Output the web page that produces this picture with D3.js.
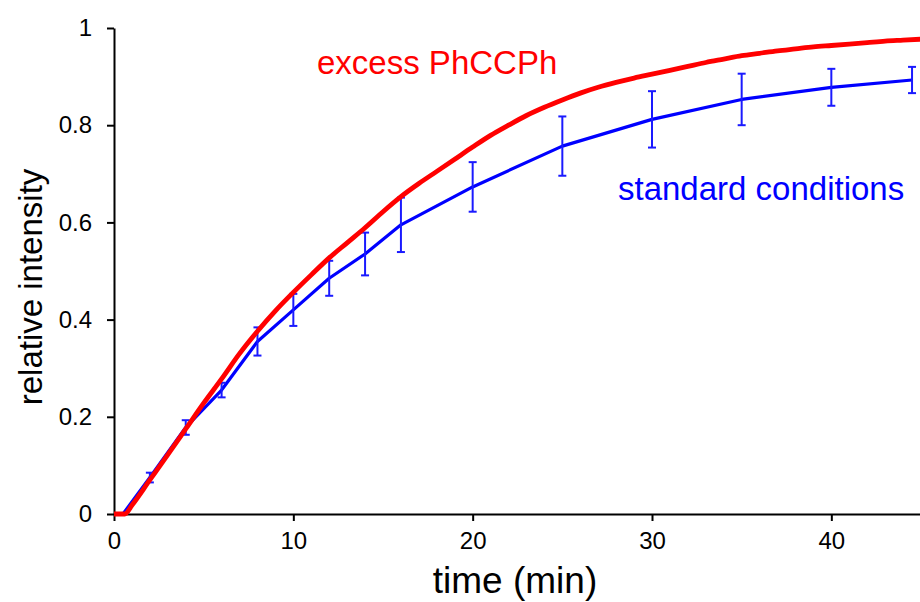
<!DOCTYPE html>
<html>
<head>
<meta charset="utf-8">
<script src="https://cdn.jsdelivr.net/npm/d3@7/dist/d3.min.js"></script>
<style>
  body { margin: 0; background: #fff; }
  svg text { font-family: "Liberation Sans", Arial, sans-serif; }
</style>
</head>
<body>
<div id="chart"></div>
<script>
// excess PhCCPh trace
var excessTime = [0, 0.6, 1, 2, 3, 4, 5, 6, 7, 8, 9, 10, 11, 12, 13, 14, 15, 16, 17, 18, 19, 20,
                  21, 22, 23, 24, 25, 26, 27, 28, 29, 30, 31, 32, 33, 34, 35, 36, 37, 38, 39, 40,
                  41, 42, 43, 44, 45];
var excessValue = [0, 0, 0.018, 0.07, 0.122, 0.175, 0.228, 0.278, 0.33, 0.376, 0.418, 0.456, 0.492, 0.527, 0.558, 0.589,
                   0.622, 0.653, 0.68, 0.705, 0.73, 0.755, 0.779, 0.8, 0.82, 0.837, 0.852, 0.866, 0.878, 0.888,
                   0.897, 0.905, 0.913, 0.921, 0.929, 0.936, 0.943, 0.948, 0.953, 0.957, 0.961, 0.964, 0.967,
                   0.970, 0.973, 0.975, 0.977];

// standard conditions, mean and error
var stdTime  = [0.5, 2, 4, 6, 8, 10, 12, 14, 16, 20, 25, 30, 35, 40, 44.5];
var stdValue = [0, 0.075, 0.178, 0.255, 0.355, 0.42, 0.485, 0.535, 0.595, 0.673, 0.757, 0.812, 0.853, 0.878, 0.893];
var stdError = [0, 0.01, 0.015, 0.015, 0.029, 0.033, 0.036, 0.044, 0.056, 0.051, 0.061, 0.058, 0.053, 0.038, 0.027];

var xTicks = [0, 10, 20, 30, 40];
var yTicks = [0, 0.2, 0.4, 0.6, 0.8, 1];

var svg = d3.select("#chart").append("svg")
    .attr("width", 920)
    .attr("height", 602);

var x = d3.scaleLinear().domain([0, 45]).range([114, 921]);
var y = d3.scaleLinear().domain([0, 1]).range([514, 28]);

// axes
var xAxis = svg.append("g")
    .attr("transform", "translate(0," + y(0) + ")")
    .call(d3.axisBottom(x).tickValues(xTicks).tickSizeInner(7).tickSizeOuter(0).tickPadding(6)
      .tickFormat(d3.format("~g")));

var yAxis = svg.append("g")
    .attr("transform", "translate(" + x(0) + ",0)")
    .call(d3.axisLeft(y).tickValues(yTicks).tickSizeInner(7).tickSizeOuter(0).tickPadding(15)
      .tickFormat(d3.format("~g")));

[xAxis, yAxis].forEach(function(a) {
  a.select(".domain").attr("stroke", "#000").attr("stroke-width", 2);
  a.selectAll(".tick line").attr("stroke", "#000").attr("stroke-width", 2);
  a.selectAll(".tick text").attr("fill", "#000").style("font-size", "24px")
    .style("font-family", "'Liberation Sans', Arial, sans-serif");
});
xAxis.selectAll(".tick text").attr("dy", "0.9em");

svg.append("text")
    .attr("x", 515)
    .attr("y", 593)
    .attr("text-anchor", "middle")
    .style("font-size", "37px")
    .text("time (min)");

svg.append("text")
    .attr("transform", "translate(42,287) rotate(-90)")
    .attr("text-anchor", "middle")
    .style("font-size", "33px")
    .text("relative intensity");

// standard conditions line + error bars
var stdData = stdTime.map(function(t, i) { return {t: t, v: stdValue[i], e: stdError[i]}; });

svg.append("path")
    .datum(stdData)
    .attr("fill", "none")
    .attr("stroke", "#0000ff")
    .attr("stroke-width", 3.2)
    .attr("stroke-linejoin", "round")
    .attr("d", d3.line()
      .x(function(d) { return x(d.t); })
      .y(function(d) { return y(d.v); }));

var bars = svg.selectAll(".err")
    .data(stdData.filter(function(d) { return d.e > 0; }))
  .enter().append("g")
    .attr("class", "err")
    .attr("stroke", "#1a1aff")
    .attr("stroke-width", 2);

bars.append("line")
    .attr("x1", function(d) { return x(d.t); })
    .attr("x2", function(d) { return x(d.t); })
    .attr("y1", function(d) { return y(d.v + d.e); })
    .attr("y2", function(d) { return y(d.v - d.e); });
bars.append("line")
    .attr("x1", function(d) { return x(d.t) - 4; })
    .attr("x2", function(d) { return x(d.t) + 4; })
    .attr("y1", function(d) { return y(d.v + d.e); })
    .attr("y2", function(d) { return y(d.v + d.e); });
bars.append("line")
    .attr("x1", function(d) { return x(d.t) - 4; })
    .attr("x2", function(d) { return x(d.t) + 4; })
    .attr("y1", function(d) { return y(d.v - d.e); })
    .attr("y2", function(d) { return y(d.v - d.e); });

// excess PhCCPh trace
var excessData = excessTime.map(function(t, i) { return {t: t, v: excessValue[i]}; });

svg.append("path")
    .datum(excessData)
    .attr("fill", "none")
    .attr("stroke", "#ff0000")
    .attr("stroke-width", 4.8)
    .attr("stroke-linejoin", "round")
    .attr("d", d3.line()
      .curve(d3.curveMonotoneX)
      .x(function(d) { return x(d.t); })
      .y(function(d) { return y(d.v); }));

// labels
svg.append("text")
    .attr("x", 317)
    .attr("y", 74)
    .attr("fill", "#ff0000")
    .style("font-size", "33px")
    .text("excess PhCCPh");

svg.append("text")
    .attr("x", 618)
    .attr("y", 200)
    .attr("fill", "#0000ff")
    .style("font-size", "33px")
    .text("standard conditions");
</script>
</body>
</html>
